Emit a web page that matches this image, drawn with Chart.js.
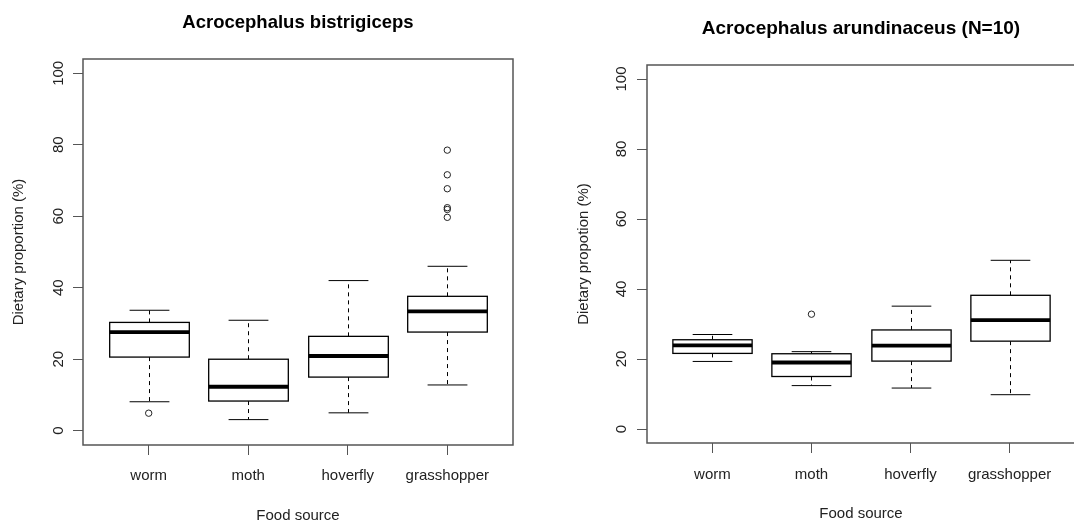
<!DOCTYPE html>
<html>
<head>
<meta charset="utf-8">
<title>Dietary proportion by food source</title>
<script src="https://cdn.jsdelivr.net/npm/chart.js@4.4.1/dist/chart.umd.min.js"></script>
<style>
  html, body { margin: 0; padding: 0; background: #fff; overflow: hidden; }
  .panel { position: absolute; top: 0; }
</style>
</head>
<body>
<div class="panel" style="left:0"><canvas id="bisChart" width="540" height="522"></canvas></div>
<div class="panel" style="left:540px"><canvas id="aruChart" width="540" height="522"></canvas></div>
<script>
const foodSources = ["worm", "moth", "hoverfly", "grasshopper"];
const yTicks = [0, 20, 40, 60, 80, 100];

// Acrocephalus bistrigiceps
const bisLow = [8.1, 3.1, 5.0, 12.8];
const bisQ1 = [20.6, 8.3, 15.0, 27.6];
const bisMedian = [27.6, 12.3, 20.9, 33.4];
const bisQ3 = [30.3, 20.0, 26.4, 37.6];
const bisHigh = [33.7, 30.9, 42.0, 46.0];
const bisOutliers = [[4.9], [], [], [78.5, 71.6, 67.7, 62.4, 61.9, 59.7]];

// Acrocephalus arundinaceus
const aruLow = [19.3, 12.4, 11.7, 9.8];
const aruQ1 = [21.6, 15.0, 19.4, 25.1];
const aruMedian = [23.9, 19.0, 23.8, 31.1];
const aruQ3 = [25.5, 21.5, 28.3, 38.2];
const aruHigh = [27.0, 22.1, 35.1, 48.2];
const aruOutliers = [[], [32.8], [], []];

const FONT = "'Liberation Sans', Arial, sans-serif";

function line(ctx, x1, y1, x2, y2) {
  ctx.beginPath();
  ctx.moveTo(x1, y1);
  ctx.lineTo(x2, y2);
  ctx.stroke();
}

// boxes, whiskers and medians are drawn from the stats through the chart scales
function boxPlugin(stats) {
  return {
    id: "boxes",
    beforeDatasetsDraw(chart) {
      const { ctx } = chart;
      const x = chart.scales.x;
      const y = chart.scales.y;
      const half = x.getPixelForValue(1.4) - x.getPixelForValue(1);
      const cap = half / 2;
      ctx.save();
      ctx.strokeStyle = "#000";
      stats.median.forEach((m, i) => {
        const cx = Math.round(x.getPixelForValue(i + 1)) + 0.5;
        const yLow = y.getPixelForValue(stats.low[i]);
        const yQ1 = y.getPixelForValue(stats.q1[i]);
        const yMed = y.getPixelForValue(m);
        const yQ3 = y.getPixelForValue(stats.q3[i]);
        const yHigh = y.getPixelForValue(stats.high[i]);

        ctx.lineWidth = 1;
        ctx.setLineDash([4, 4]);
        line(ctx, cx, yQ3, cx, yHigh);
        line(ctx, cx, yQ1, cx, yLow);
        ctx.setLineDash([]);
        line(ctx, cx - cap, yHigh, cx + cap, yHigh);
        line(ctx, cx - cap, yLow, cx + cap, yLow);

        ctx.fillStyle = "#fff";
        ctx.fillRect(cx - half, yQ3, half * 2, yQ1 - yQ3);
        ctx.lineWidth = 1.3;
        ctx.strokeRect(cx - half, yQ3, half * 2, yQ1 - yQ3);

        ctx.lineWidth = 3.8;
        line(ctx, cx - half, yMed, cx + half, yMed);
      });
      ctx.restore();
    },
    afterDraw(chart) {
      const { ctx, chartArea: a } = chart;
      ctx.save();
      ctx.strokeStyle = "#555";
      ctx.lineWidth = 1.5;
      ctx.strokeRect(a.left, a.top, a.right - a.left, a.bottom - a.top);
      ctx.restore();
    }
  };
}

function makePanel(id, title, yTitle, stats, outliers, lay) {
  const points = [];
  outliers.forEach((list, i) => {
    list.forEach(v => points.push({ x: i + 1, y: v }));
  });

  return new Chart(document.getElementById(id), {
    type: "scatter",
    data: {
      datasets: [{
        data: points,
        pointStyle: "circle",
        pointRadius: 3.2,
        pointBorderWidth: 1,
        pointBorderColor: "#222",
        pointBackgroundColor: "rgba(0,0,0,0)"
      }]
    },
    options: {
      responsive: false,
      devicePixelRatio: 1,
      animation: false,
      layout: { padding: { left: 0, right: lay.right, top: 0, bottom: 0 } },
      plugins: {
        legend: { display: false },
        tooltip: { enabled: false },
        title: {
          display: true,
          text: title,
          fullSize: false,
          color: "#000",
          font: { family: FONT, size: lay.titleSize, weight: "bold" },
          padding: { top: lay.titleTop, bottom: lay.titleBottom }
        }
      },
      scales: {
        x: {
          type: "linear",
          min: 0.34,
          max: 4.66,
          afterBuildTicks: s => { s.ticks = foodSources.map((c, i) => ({ value: i + 1 })); },
          afterFit: s => { s.height = lay.xHeight; },
          border: { display: false },
          grid: { drawOnChartArea: false, drawTicks: true, tickLength: 10, color: "#555" },
          ticks: {
            autoSkip: false,
            minRotation: 0,
            maxRotation: 0,
            padding: lay.xTickPad,
            color: "#222",
            font: { family: FONT, size: 15 },
            callback: v => foodSources[v - 1]
          },
          title: {
            display: true,
            text: "Food source",
            color: "#222",
            font: { family: FONT, size: 15, lineHeight: 1 },
            padding: { top: 0, bottom: lay.xTitlePad }
          }
        },
        y: {
          min: -4,
          max: 104,
          afterBuildTicks: s => { s.ticks = yTicks.map(v => ({ value: v })); },
          afterFit: s => { s.width = lay.yWidth; },
          border: { display: false },
          grid: { drawOnChartArea: false, drawTicks: true, tickLength: 10, color: "#555" },
          ticks: {
            minRotation: 90,
            maxRotation: 90,
            crossAlign: "center",
            padding: lay.yTickPad,
            color: "#222",
            font: { family: FONT, size: 15 }
          },
          title: {
            display: true,
            text: yTitle,
            color: "#222",
            font: { family: FONT, size: 15 },
            padding: { top: lay.yTitlePad, bottom: 0 }
          }
        }
      }
    },
    plugins: [boxPlugin(stats)]
  });
}

document.addEventListener("DOMContentLoaded", () => {
  makePanel("bisChart", "Acrocephalus bistrigiceps", "Dietary proportion (%)",
    { low: bisLow, q1: bisQ1, median: bisMedian, q3: bisQ3, high: bisHigh },
    bisOutliers,
    { right: 27, titleSize: 18.5, titleTop: 12, titleBottom: 24.8, xHeight: 77,
      xTickPad: 12, xTitlePad: -1.5, yWidth: 83, yTickPad: 2, yTitlePad: 10 });

  makePanel("aruChart", "Acrocephalus arundinaceus (N=10)", "Dietary propotion (%)",
    { low: aruLow, q1: aruQ1, median: aruMedian, q3: aruQ3, high: aruHigh },
    aruOutliers,
    { right: 5, titleSize: 19, titleTop: 17.6, titleBottom: 24.6, xHeight: 79,
      xTickPad: 12.5, xTitlePad: 1, yWidth: 107, yTickPad: 3, yTitlePad: 35 });
});
</script>
</body>
</html>
